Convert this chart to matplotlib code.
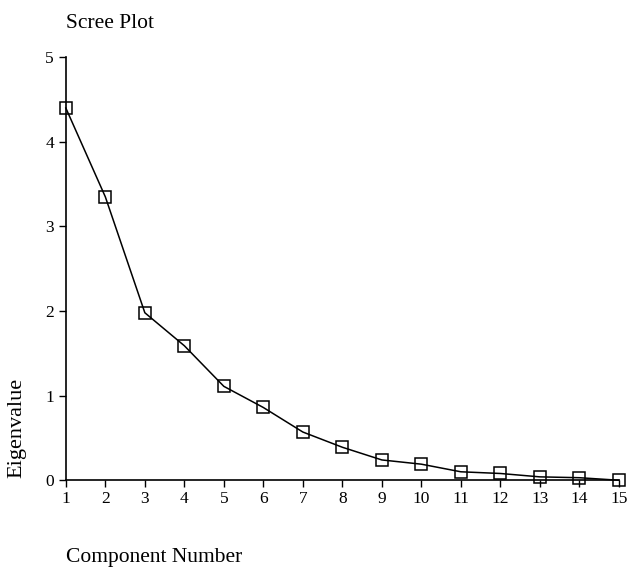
import numpy as np
import matplotlib.pyplot as plt

plt.rcParams["font.family"] = ["Liberation Serif", "DejaVu Serif"]

# ----------
#  DATA
# ----------
components = list(range(1, 16))
eigenvalues = [4.40, 3.35, 1.98, 1.59, 1.11, 0.86, 0.57, 0.39,
               0.24, 0.19, 0.10, 0.08, 0.04, 0.03, 0.00]
y_ticks = [0, 1, 2, 3, 4, 5]

fig = plt.figure(figsize=(6.27, 5.67), dpi=100)
ax = fig.add_axes([0.105, 0.153, 0.882, 0.746])

ax.plot(components, eigenvalues, color="black", linewidth=1.1,
        marker="s", markersize=8, markerfacecolor="none",
        markeredgecolor="black", markeredgewidth=1.1, clip_on=False, zorder=3)

ax.set_xlim(1, 15)
ax.set_ylim(0, 5)
ax.set_xticks(components)
ax.set_yticks(y_ticks)

for side in ("top", "right"):
    ax.spines[side].set_visible(False)
for side in ("left", "bottom"):
    ax.spines[side].set_linewidth(1.2)

ax.tick_params(axis="both", direction="out", length=5, width=1, labelsize=12.5)
ax.tick_params(axis="x", pad=3)

# figure-level labels, placed like the original SPSS output
fig.text(0.105, 0.975, "Scree Plot", fontsize=15.5, ha="left", va="top")
fig.text(0.105, 0.009, "Component Number", fontsize=15.5, ha="left",
         va="baseline")
fig.text(0.012, 0.157, "Eigenvalue", fontsize=16, rotation=90,
         ha="left", va="bottom")

fig.savefig("out.png", dpi=100)
